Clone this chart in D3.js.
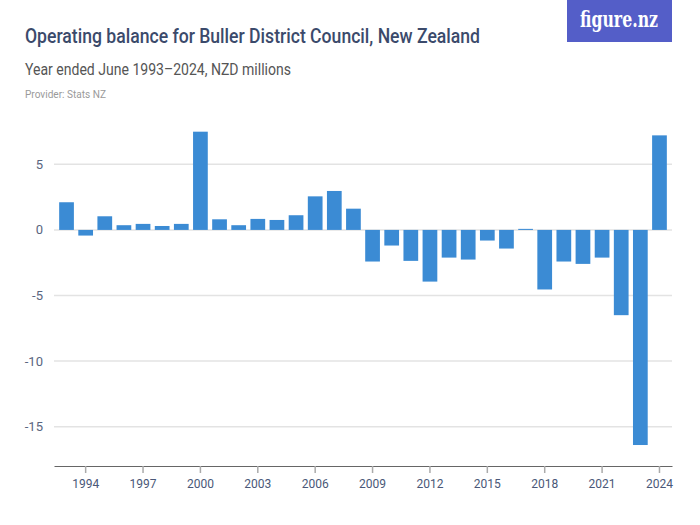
<!DOCTYPE html>
<html>
<head>
<meta charset="utf-8">
<script src="https://cdn.jsdelivr.net/npm/d3@7"></script>
<style>
  body { margin: 0; background: #fff; }
  svg text { font-family: "Roboto", "Liberation Sans", sans-serif; }
</style>
</head>
<body>
<div id="chart"></div>
<script>
// data
var years = d3.range(1993, 2025);
var balance = [2.11, -0.43, 1.04, 0.36, 0.46, 0.30, 0.46, 7.49, 0.81, 0.36,
               0.84, 0.76, 1.12, 2.56, 2.97, 1.62, -2.41, -1.19, -2.36, -3.94,
               -2.11, -2.26, -0.81, -1.42, 0.08, -4.54, -2.41, -2.59, -2.11, -6.5,
               -16.4, 7.21];
var yTicks = [5, 0, -5, -10, -15];
var xTicks = [1994, 1997, 2000, 2003, 2006, 2009, 2012, 2015, 2018, 2021, 2024];

var width = 700, height = 525;
var margin = {left: 54, right: 672, top: 125, bottom: 466};

var svg = d3.select("#chart").append("svg")
    .attr("width", width)
    .attr("height", height);

// titles
svg.append("text")
    .attr("x", 25).attr("y", 43)
    .attr("font-size", 21)
    .attr("font-weight", 500)
    .attr("fill", "#3b4a6b")
    .attr("textLength", 455)
    .attr("lengthAdjust", "spacingAndGlyphs")
    .text("Operating balance for Buller District Council, New Zealand");

svg.append("text")
    .attr("x", 25).attr("y", 75)
    .attr("font-size", 16)
    .attr("fill", "#555")
    .attr("textLength", 266)
    .attr("lengthAdjust", "spacingAndGlyphs")
    .text("Year ended June 1993–2024, NZD millions");

svg.append("text")
    .attr("x", 25).attr("y", 98)
    .attr("font-size", 10.5)
    .attr("fill", "#9a9a9a")
    .attr("textLength", 81)
    .attr("lengthAdjust", "spacingAndGlyphs")
    .text("Provider: Stats NZ");

// logo
var logo = svg.append("g").attr("transform", "translate(567,0)");
logo.append("rect")
    .attr("width", 105).attr("height", 42)
    .attr("fill", "#545ec8");
logo.append("text")
    .attr("x", 13).attr("y", 27)
    .attr("font-size", 22)
    .attr("font-weight", "bold")
    .attr("fill", "#fff")
    .attr("textLength", 78)
    .attr("lengthAdjust", "spacingAndGlyphs")
    .style("font-family", "'DejaVu Serif', serif")
    .text("figure.nz");

var x = d3.scaleBand()
    .domain(years)
    .range([margin.left, margin.right])
    .paddingInner(0.23)
    .paddingOuter(0.27);

var y = d3.scaleLinear()
    .domain([-18, 8])
    .range([margin.bottom, margin.top]);

// gridlines
svg.append("g")
    .selectAll("line")
    .data(yTicks)
    .join("line")
    .attr("x1", margin.left).attr("x2", margin.right)
    .attr("y1", d => y(d)).attr("y2", d => y(d))
    .attr("stroke", "#e3e3e3")
    .attr("stroke-width", 1.5);

// y labels
svg.append("g")
    .selectAll("text")
    .data(yTicks)
    .join("text")
    .attr("x", 43)
    .attr("y", d => y(d))
    .attr("dy", "0.35em")
    .attr("text-anchor", "end")
    .attr("font-size", 13)
    .attr("fill", "#5a6580")
    .text(d => d);

// bars
svg.append("g")
    .selectAll("rect")
    .data(years)
    .join("rect")
    .attr("x", d => x(d))
    .attr("width", x.bandwidth())
    .attr("y", (d, i) => y(Math.max(0, balance[i])))
    .attr("height", (d, i) => Math.abs(y(balance[i]) - y(0)))
    .attr("fill", "#3b8bd4");

// x axis
var xAxis = d3.axisBottom(x)
    .tickValues(xTicks)
    .tickSizeInner(7)
    .tickSizeOuter(0)
    .tickPadding(6);

var gx = svg.append("g")
    .attr("transform", "translate(0," + margin.bottom + ")")
    .call(xAxis);

gx.select(".domain").attr("stroke", "#666").attr("stroke-width", 1.2);
gx.selectAll(".tick line").attr("stroke", "#aaa").attr("stroke-width", 1.5);
gx.selectAll(".tick text")
    .attr("font-size", 13)
    .attr("fill", "#4a5878")
    .style("font-family", "Roboto, sans-serif")
    .attr("textLength", 27)
    .attr("lengthAdjust", "spacingAndGlyphs");
</script>
</body>
</html>
